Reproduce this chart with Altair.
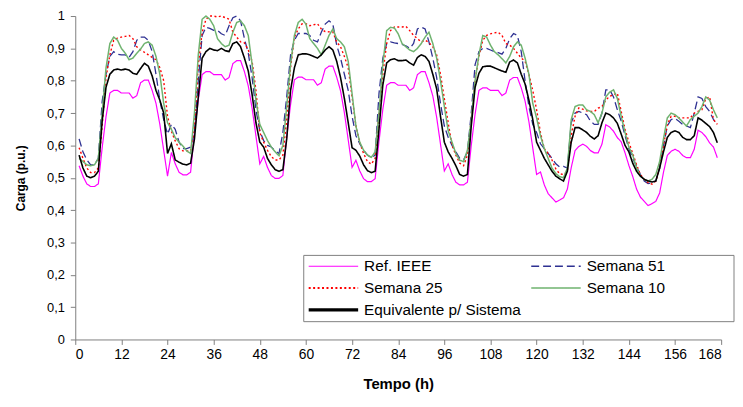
import altair as alt
import pandas as pd

hours = list(range(1, 168))

ref_ieee = [
    0.537, 0.505, 0.481, 0.473, 0.473, 0.481, 0.593, 0.689, 0.762, 0.770, 0.770, 0.762, 0.762, 0.762, 0.746, 0.754, 0.794, 0.802, 0.802, 0.770, 0.730, 0.665, 0.585, 0.505,
    0.578, 0.543, 0.517, 0.509, 0.509, 0.517, 0.638, 0.741, 0.819, 0.828, 0.828, 0.819, 0.819, 0.819, 0.802, 0.810, 0.853, 0.862, 0.862, 0.828, 0.784, 0.715, 0.629, 0.543,
    0.566, 0.532, 0.507, 0.498, 0.498, 0.507, 0.625, 0.726, 0.803, 0.811, 0.811, 0.803, 0.803, 0.803, 0.786, 0.794, 0.836, 0.845, 0.845, 0.811, 0.769, 0.701, 0.617, 0.532,
    0.554, 0.521, 0.497, 0.488, 0.488, 0.497, 0.612, 0.712, 0.786, 0.794, 0.794, 0.786, 0.786, 0.786, 0.770, 0.778, 0.819, 0.828, 0.828, 0.794, 0.753, 0.687, 0.604, 0.521,
    0.543, 0.510, 0.486, 0.478, 0.478, 0.486, 0.600, 0.697, 0.770, 0.778, 0.778, 0.770, 0.770, 0.770, 0.754, 0.762, 0.802, 0.810, 0.810, 0.778, 0.737, 0.673, 0.592, 0.510,
    0.518, 0.478, 0.451, 0.438, 0.425, 0.431, 0.438, 0.465, 0.531, 0.584, 0.597, 0.604, 0.597, 0.584, 0.577, 0.577, 0.604, 0.664, 0.657, 0.644, 0.624, 0.611, 0.577, 0.538,
    0.504, 0.465, 0.440, 0.427, 0.414, 0.420, 0.427, 0.453, 0.517, 0.569, 0.582, 0.588, 0.582, 0.569, 0.562, 0.562, 0.588, 0.647, 0.640, 0.627, 0.608, 0.595, 0.562,
]

semana_51 = [
    0.62, 0.58, 0.555, 0.54, 0.54, 0.56, 0.736, 0.82, 0.875, 0.89, 0.882, 0.88, 0.88, 0.872, 0.89, 0.925, 0.935, 0.935, 0.925, 0.89, 0.82, 0.74, 0.68, 0.635,
    0.665, 0.65, 0.61, 0.59, 0.59, 0.595, 0.64, 0.80, 0.94, 0.965, 0.962, 0.956, 0.956, 0.945, 0.94, 0.97, 0.995, 1.0, 0.985, 0.93, 0.885, 0.81, 0.71, 0.645,
    0.615, 0.60, 0.595, 0.583, 0.575, 0.64, 0.75, 0.88, 0.925, 0.946, 0.946, 0.946, 0.94, 0.925, 0.92, 0.95, 0.975, 0.985, 0.975, 0.91, 0.87, 0.82, 0.77, 0.69,
    0.63, 0.605, 0.585, 0.57, 0.562, 0.57, 0.76, 0.87, 0.915, 0.92, 0.917, 0.915, 0.912, 0.908, 0.90, 0.915, 0.96, 0.966, 0.96, 0.92, 0.87, 0.81, 0.73, 0.66,
    0.625, 0.60, 0.58, 0.56, 0.555, 0.58, 0.70, 0.85, 0.89, 0.90, 0.90, 0.895, 0.89, 0.887, 0.882, 0.90, 0.93, 0.946, 0.94, 0.89, 0.80, 0.72, 0.665, 0.64,
    0.605, 0.59, 0.575, 0.56, 0.543, 0.533, 0.535, 0.53, 0.67, 0.70, 0.705, 0.70, 0.695, 0.675, 0.665, 0.665, 0.70, 0.772, 0.772, 0.75, 0.71, 0.675, 0.63, 0.59,
    0.56, 0.535, 0.51, 0.49, 0.482, 0.484, 0.49, 0.53, 0.60, 0.66, 0.68, 0.683, 0.675, 0.665, 0.66, 0.655, 0.70, 0.75, 0.745, 0.72, 0.705, 0.68, 0.665,
]

semana_25 = [
    0.593, 0.56, 0.53, 0.516, 0.516, 0.53, 0.66, 0.81, 0.88, 0.925, 0.932, 0.935, 0.937, 0.94, 0.93, 0.905, 0.895, 0.888, 0.88, 0.872, 0.865, 0.84, 0.80, 0.69,
    0.644, 0.614, 0.59, 0.583, 0.583, 0.583, 0.65, 0.85, 0.95, 0.99, 1.0, 1.0, 0.997, 1.0, 0.995, 0.99, 0.95, 0.935, 0.92, 0.917, 0.895, 0.86, 0.77, 0.64,
    0.61, 0.585, 0.565, 0.555, 0.555, 0.57, 0.68, 0.84, 0.935, 0.96, 0.976, 0.976, 0.97, 0.973, 0.976, 0.96, 0.952, 0.951, 0.951, 0.92, 0.905, 0.875, 0.84, 0.75,
    0.66, 0.61, 0.575, 0.55, 0.542, 0.56, 0.70, 0.82, 0.915, 0.955, 0.966, 0.966, 0.966, 0.968, 0.955, 0.94, 0.93, 0.92, 0.925, 0.918, 0.905, 0.88, 0.82, 0.745,
    0.67, 0.60, 0.57, 0.545, 0.537, 0.57, 0.68, 0.80, 0.875, 0.925, 0.94, 0.945, 0.948, 0.95, 0.94, 0.915, 0.91, 0.90, 0.885, 0.87, 0.86, 0.82, 0.77, 0.71,
    0.64, 0.59, 0.575, 0.555, 0.527, 0.512, 0.51, 0.52, 0.63, 0.69, 0.716, 0.712, 0.707, 0.705, 0.705, 0.715, 0.72, 0.74, 0.752, 0.757, 0.762, 0.705, 0.65, 0.61,
    0.575, 0.54, 0.51, 0.495, 0.485, 0.48, 0.49, 0.53, 0.60, 0.665, 0.69, 0.69, 0.685, 0.685, 0.685, 0.685, 0.70, 0.705, 0.71, 0.745, 0.75, 0.68, 0.665,
]

semana_10 = [
    0.56, 0.55, 0.54, 0.537, 0.54, 0.56, 0.70, 0.84, 0.915, 0.935, 0.925, 0.90, 0.885, 0.865, 0.87, 0.885, 0.898, 0.915, 0.92, 0.91, 0.875, 0.82, 0.73, 0.67,
    0.65, 0.624, 0.61, 0.598, 0.583, 0.575, 0.70, 0.88, 0.99, 1.0, 0.99, 0.97, 0.93, 0.915, 0.905, 0.91, 0.95, 0.98, 0.985, 0.97, 0.94, 0.85, 0.74, 0.665,
    0.64, 0.615, 0.595, 0.58, 0.568, 0.60, 0.72, 0.85, 0.94, 0.98, 0.99, 0.975, 0.93, 0.915, 0.90, 0.88, 0.91, 0.94, 0.96, 0.93, 0.92, 0.905, 0.86, 0.76,
    0.66, 0.61, 0.585, 0.57, 0.563, 0.58, 0.70, 0.85, 0.955, 0.965, 0.963, 0.945, 0.915, 0.905, 0.895, 0.89, 0.90, 0.915, 0.935, 0.95, 0.915, 0.87, 0.80, 0.72,
    0.645, 0.61, 0.575, 0.554, 0.55, 0.585, 0.68, 0.80, 0.88, 0.94, 0.935, 0.91, 0.89, 0.88, 0.868, 0.855, 0.875, 0.905, 0.92, 0.91, 0.87, 0.82, 0.73, 0.685,
    0.63, 0.59, 0.56, 0.53, 0.513, 0.503, 0.50, 0.53, 0.68, 0.72, 0.725, 0.725, 0.71, 0.705, 0.695, 0.67, 0.70, 0.75, 0.765, 0.772, 0.745, 0.69, 0.64, 0.595,
    0.57, 0.53, 0.505, 0.495, 0.49, 0.495, 0.51, 0.55, 0.62, 0.685, 0.70, 0.695, 0.685, 0.672, 0.66, 0.68, 0.69, 0.70, 0.72, 0.75, 0.74, 0.71, 0.685,
]

equivalente = [
    0.57, 0.53, 0.505, 0.50, 0.505, 0.52, 0.675, 0.78, 0.82, 0.833, 0.836, 0.833, 0.836, 0.833, 0.823, 0.82, 0.838, 0.854, 0.845, 0.815, 0.77, 0.74, 0.70, 0.575,
    0.605, 0.555, 0.548, 0.542, 0.54, 0.545, 0.62, 0.75, 0.87, 0.89, 0.90, 0.895, 0.893, 0.90, 0.893, 0.89, 0.915, 0.92, 0.905, 0.87, 0.83, 0.757, 0.67, 0.61,
    0.595, 0.56, 0.54, 0.525, 0.52, 0.525, 0.62, 0.77, 0.84, 0.88, 0.883, 0.883, 0.88, 0.875, 0.87, 0.88, 0.895, 0.905, 0.895, 0.86, 0.81, 0.745, 0.67, 0.593,
    0.585, 0.567, 0.54, 0.522, 0.516, 0.52, 0.65, 0.787, 0.855, 0.865, 0.868, 0.862, 0.862, 0.864, 0.855, 0.848, 0.872, 0.88, 0.875, 0.86, 0.82, 0.775, 0.69, 0.61,
    0.58, 0.56, 0.537, 0.51, 0.505, 0.51, 0.66, 0.78, 0.823, 0.843, 0.845, 0.845, 0.84, 0.835, 0.83, 0.826, 0.858, 0.864, 0.855, 0.82, 0.79, 0.74, 0.68, 0.61,
    0.585, 0.56, 0.54, 0.52, 0.505, 0.497, 0.49, 0.52, 0.61, 0.655, 0.655, 0.648, 0.64, 0.628, 0.62, 0.63, 0.67, 0.70, 0.695, 0.685, 0.668, 0.635, 0.60, 0.58,
    0.545, 0.52, 0.505, 0.495, 0.49, 0.487, 0.49, 0.53, 0.58, 0.625, 0.64, 0.645, 0.64, 0.625, 0.618, 0.618, 0.63, 0.685, 0.678, 0.668, 0.658, 0.64, 0.608,
]

series_names = ["Ref. IEEE", "Semana 51", "Semana 25", "Semana 10", "Equivalente p/ Sistema"]
series_values = [ref_ieee, semana_51, semana_25, semana_10, equivalente]
series_colors = ["#ff00ff", "#2e3192", "#ff0000", "#6fb36f", "#000000"]
series_dash = [[1, 0], [8, 4], [2, 2.5], [1, 0], [1, 0]]
series_width = [1.2, 1.6, 2.2, 1.6, 3.2]

# legend layout (pixel positions inside the plot area): column and row of each entry
legend_col_x = [236, 461]
legend_row_y = [253, 275, 297]
legend_cells = [(0, 0), (1, 0), (0, 1), (1, 1), (0, 2)]

x_ticks = list(range(0, 169, 12))
y_ticks = [i / 10 for i in range(11)]

rows = []
for name, vals in zip(series_names, series_values):
    assert len(vals) == len(hours), (name, len(vals))
    for h, v in zip(hours, vals):
        rows.append({"hora": h, "carga": v, "serie": name})
df = pd.DataFrame(rows)

FONT = "Liberation Sans"

enc = dict(
    x=alt.X("hora:Q", scale=alt.Scale(domain=[0, 168], nice=False),
            axis=alt.Axis(values=x_ticks, title="Tempo (h)", grid=False,
                          labelFontSize=14, tickSize=5, labelPadding=3,
                          titleFontSize=15, titleFontWeight="bold", titlePadding=16)),
    y=alt.Y("carga:Q", scale=alt.Scale(domain=[0, 1], nice=False),
            axis=alt.Axis(values=y_ticks, title="Carga (p.u.)", grid=False,
                          labelExpr="replace(format(datum.value, '.1~f'), '.', ',')",
                          labelFontSize=13, tickSize=5, labelPadding=6,
                          titleFontSize=12, titleFontWeight="bold", titlePadding=19)),
    color=alt.Color("serie:N", scale=alt.Scale(domain=series_names, range=series_colors), legend=None),
    strokeDash=alt.StrokeDash("serie:N", scale=alt.Scale(domain=series_names, range=series_dash), legend=None),
    strokeWidth=alt.StrokeWidth("serie:N", scale=alt.Scale(domain=series_names, range=series_width), legend=None),
)

one = pd.DataFrame({"k": [0]})

frame = alt.Chart(one).mark_rect(
    fill="white", stroke="#808080", strokeWidth=1
).encode(x=alt.value(231), x2=alt.value(666), y=alt.value(242), y2=alt.value(309))

layers = [frame]
for name in series_names:
    layers.append(
        alt.Chart(df).transform_filter(alt.datum.serie == name).mark_line(clip=False).encode(**enc)
    )

# manual legend
for name, color, dash, width, (c, r) in zip(series_names, series_colors, series_dash,
                                            series_width, legend_cells):
    x0 = legend_col_x[c]
    yy = legend_row_y[r]
    layers.append(
        alt.Chart(one).mark_rule(color=color, strokeDash=dash, strokeWidth=width).encode(
            x=alt.value(x0), x2=alt.value(x0 + 50), y=alt.value(yy)
        )
    )
    layers.append(
        alt.Chart(one).mark_text(
            text=name, align="left", baseline="middle", fontSize=15.5, font=FONT, color="black"
        ).encode(x=alt.value(x0 + 56), y=alt.value(yy))
    )

chart = alt.layer(*layers).properties(
    width=653,
    height=327,
    padding={"left": 68, "top": 6, "right": 14, "bottom": 52},
    autosize=alt.AutoSizeParams(type="none"),
).configure_view(stroke=None).configure_axis(
    domainColor="#808080", tickColor="#808080", labelColor="black", titleColor="black",
    labelFont=FONT, titleFont=FONT,
)

chart.save("out.html", embed_options={"renderer": "svg", "actions": False})
